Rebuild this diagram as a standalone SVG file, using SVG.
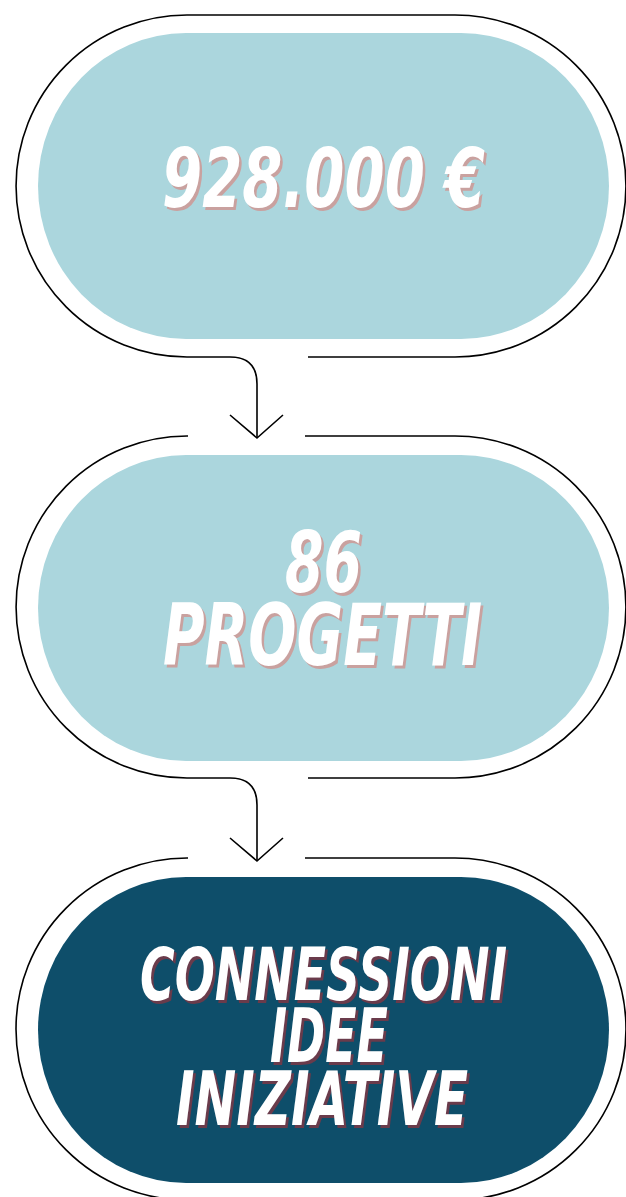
<svg xmlns="http://www.w3.org/2000/svg" width="626" height="1197" viewBox="0 0 626 1197">
<style>
.outline{fill:none;stroke:#000;stroke-width:1.6;stroke-linecap:butt}
.conn{fill:none;stroke:#000;stroke-width:1.6;stroke-linejoin:miter}
.light{fill:#abd6dd}
.dark{fill:#0e4e6a}
.t{font-family:"DejaVu Sans Condensed","DejaVu Sans",sans-serif;font-weight:bold;font-style:italic;font-stretch:condensed}
.w{fill:#ffffff}
.sp{fill:#c9a19f}
.sd{fill:#6a3b4b}
</style>
<rect width="626" height="1197" fill="#ffffff"/>
<g id="node1">
<path class="outline" d="M308 357 L455 357 A171 171 0 0 0 455 15 L187 15 A171 171 0 0 0 187 357 L230 357"/>
<rect class="light" x="38" y="33" width="571" height="306" rx="148" ry="153"/>
<text class="t sp" transform="translate(164.5,210) scale(1,1.28)" x="0" y="0" font-size="64" textLength="323" lengthAdjust="spacingAndGlyphs">928.000 €</text>
<text class="t w" transform="translate(162,207) scale(1,1.28)" x="0" y="0" font-size="64" textLength="323" lengthAdjust="spacingAndGlyphs">928.000 €</text>
</g>
<g id="node2">
<path class="outline" d="M308 778 L455 778 A171 171 0 0 0 455 436 L305 436"/>
<path class="outline" d="M188 436 L187 436 A171 171 0 0 0 187 778 L230 778"/>
<rect class="light" x="38" y="455" width="571" height="306" rx="148" ry="153"/>
<text class="t sp" transform="translate(287.5,595) scale(1,1.37)" x="0" y="0" font-size="61" textLength="77" lengthAdjust="spacingAndGlyphs">86</text>
<text class="t w" transform="translate(285,592) scale(1,1.37)" x="0" y="0" font-size="61" textLength="77" lengthAdjust="spacingAndGlyphs">86</text>
<text class="t sp" transform="translate(165.5,668) scale(1,1.36)" x="0" y="0" font-size="63" textLength="319" lengthAdjust="spacingAndGlyphs">PROGETTI</text>
<text class="t w" transform="translate(163,665) scale(1,1.36)" x="0" y="0" font-size="63" textLength="319" lengthAdjust="spacingAndGlyphs">PROGETTI</text>
</g>
<g id="node3">
<path class="outline" d="M305 858 L455 858 A171 171 0 0 1 455 1200 L187 1200 A171 171 0 0 1 187 858 L188 858"/>
<rect class="dark" x="38" y="877" width="571" height="306" rx="148" ry="153"/>
<text class="t sd" transform="translate(142.5,1003) scale(1,1.42)" x="0" y="0" font-size="52" textLength="367" lengthAdjust="spacingAndGlyphs">CONNESSIONI</text>
<text class="t w" transform="translate(140,1000) scale(1,1.42)" x="0" y="0" font-size="52" textLength="367" lengthAdjust="spacingAndGlyphs">CONNESSIONI</text>
<text class="t sd" transform="translate(272.5,1065) scale(1,1.45)" x="0" y="0" font-size="51" textLength="118" lengthAdjust="spacingAndGlyphs">IDEE</text>
<text class="t w" transform="translate(270,1062) scale(1,1.45)" x="0" y="0" font-size="51" textLength="118" lengthAdjust="spacingAndGlyphs">IDEE</text>
<text class="t sd" transform="translate(178.5,1128) scale(1,1.37)" x="0" y="0" font-size="54" textLength="292" lengthAdjust="spacingAndGlyphs">INIZIATIVE</text>
<text class="t w" transform="translate(176,1125) scale(1,1.37)" x="0" y="0" font-size="54" textLength="292" lengthAdjust="spacingAndGlyphs">INIZIATIVE</text>
</g>
<g id="connectors">
<path class="conn" d="M230 357 Q257 357 257 384 L257 438"/>
<path class="conn" d="M230 415 L257 438 L283 415"/>
<path class="conn" d="M230 778 Q257 778 257 805 L257 861"/>
<path class="conn" d="M230 838 L257 861 L283 838"/>
</g>
</svg>
